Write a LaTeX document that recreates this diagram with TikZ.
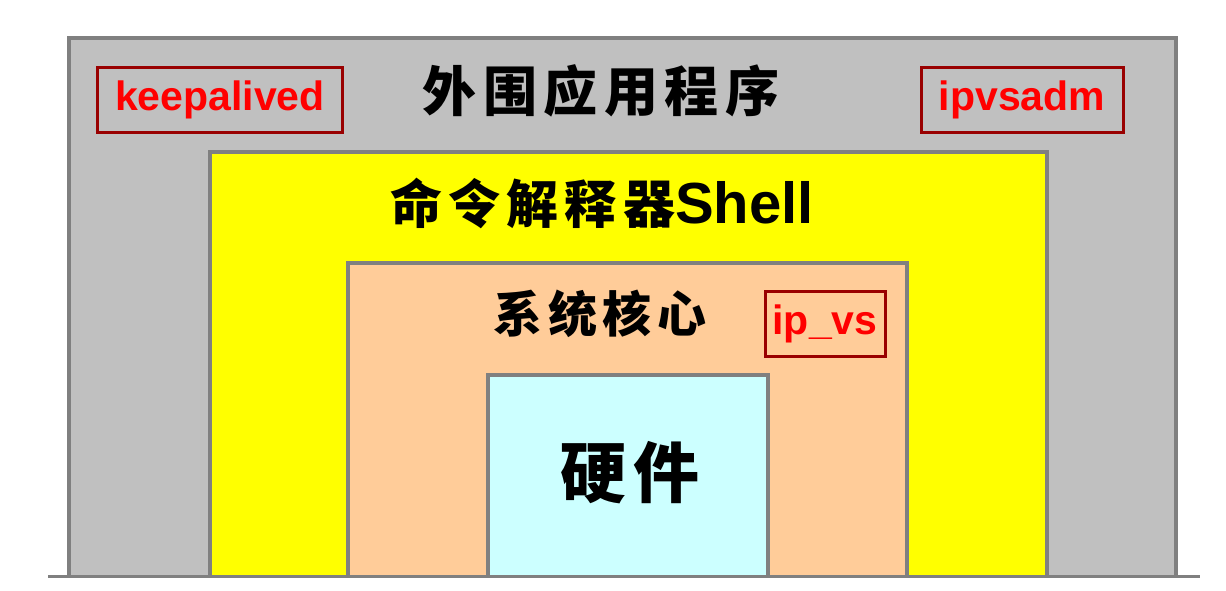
\documentclass[tikz,border=0pt]{standalone}
\usepackage{fontspec}
\setmainfont{Liberation Sans}
\newfontfamily\latinfont{Liberation Sans}
\newfontfamily\cjkfont[LetterSpace=12]{Noto Sans CJK SC}
\usepackage{tikz}

\definecolor{appgray}{HTML}{C0C0C0}
\definecolor{edgegray}{HTML}{808080}
\definecolor{shellyellow}{HTML}{FFFF00}
\definecolor{kernelpeach}{HTML}{FFCC99}
\definecolor{hwcyan}{HTML}{CCFFFF}
\definecolor{tagred}{HTML}{990000}

\begin{document}
\begin{tikzpicture}[
		x=0.5pt, y=-0.5pt,
		layer/.style={draw=edgegray, line width=2pt},
		title/.style={inner sep=0pt, font=\cjkfont\bfseries\fontsize{#1}{#1}\selectfont},
		tag/.style={draw=tagred, line width=1.5pt, text=red, inner sep=0pt,
			minimum height=32.5pt, font=\latinfont\bfseries\fontsize{20.5}{24}\selectfont}
		]
		\useasboundingbox[fill=white] (0,0) rectangle (1226,590);
		% layers, outside in
		\filldraw[layer, fill=appgray] (69,576) -- (69,38) -- (1176,38) -- (1176,576);
		\filldraw[layer, fill=shellyellow] (210,576) -- (210,152) -- (1047,152) -- (1047,576);
		\filldraw[layer, fill=kernelpeach] (348,576) -- (348,263) -- (907,263) -- (907,576);
		\filldraw[layer, fill=hwcyan] (488,576) -- (488,375) -- (768,375) -- (768,576);
		% ground line
		\coordinate (groundL) at (48,576);
		\coordinate (groundR) at (1200,576);
		\draw[edgegray, line width=1.5pt] (groundL) -- (groundR);
		% layer names
		\node[title=27] (app) at (601,91) {外围应用程序};
		\node[title=26] (shell) at (602,203) {命令解释器{\latinfont\bfseries\fontsize{29}{30}\selectfont Shell}};
		\node[title=24.5] (kernel) at (600,314) {系统核心};
		\node[title=33] (hardware) at (630,473) {硬件};
		% red tags
		\node[tag, minimum width=122.5pt] (keepalived) at (220,100) {keepalived};
		\node[tag, minimum width=101pt] (ipvsadm) at (1022,100) {ipvsadm};
		\node[tag, minimum width=60pt] (ipvs) at (825,324) {ip\_vs};
\end{tikzpicture}
\end{document}
